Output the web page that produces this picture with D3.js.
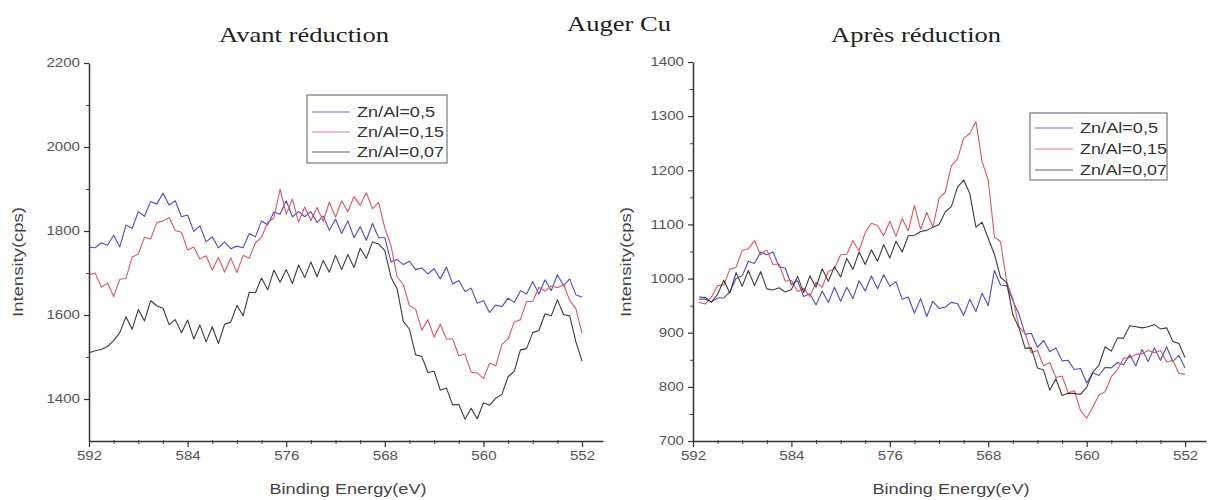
<!DOCTYPE html>
<html>
<head>
<meta charset="utf-8">
<script src="https://cdn.jsdelivr.net/npm/d3@7"></script>
<style>
  html, body { margin: 0; padding: 0; background: #fff; }
  svg { display: block; }
</style>
</head>
<body>
<svg id="chart" width="1208" height="500"></svg>
<script>
// ---------------- DATA ----------------
const chartTitle = "Auger Cu";
const panelTitles = ["Avant réduction", "Après réduction"];
const seriesNames = ["Zn/Al=0,5", "Zn/Al=0,15", "Zn/Al=0,07"];
const xLabel = "Binding Energy(eV)";
const yLabel = "Intensity(cps)";

const xTicks = [592, 584, 576, 568, 560, 552];
const xMinorTicks = [590, 588, 586, 582, 580, 578, 574, 572, 570, 566, 564, 562, 558, 556, 554];
const yTicksAvant = [1400, 1600, 1800, 2000, 2200];
const yMinorAvant = [1500, 1700, 1900, 2100];
const yTicksApres = [700, 800, 900, 1000, 1100, 1200, 1300, 1400];
const yMinorApres = [750, 850, 950, 1050, 1150, 1250, 1350];
const xDomain = [592, 550.3];
const yDomainAvant = [1300, 2200];
const yDomainApres = [700, 1400];

// Binding energies (eV)
const energiesAvant = [
  592,591.5,591,590.5,590,589.5,589,588.5,588,587.5,
  587,586.5,586,585.5,585,584.5,584,583.5,583,582.5,
  582,581.5,581,580.5,580,579.5,579,578.5,578,577.5,
  577,576.5,576,575.5,575,574.5,574,573.5,573,572.5,
  572,571.5,571,570.5,570,569.5,569,568.5,568,567.5,
  567,566.5,566,565.5,565,564.5,564,563.5,563,562.5,
  562,561.5,561,560.5,560,559.5,559,558.5,558,557.5,
  557,556.5,556,555.5,555,554.5,554,553.5,553,552.5,
  552];
const energiesApres = [
  591.5,591,590.5,590,589.5,589,588.5,588,587.5,587,
  586.5,586,585.5,585,584.5,584,583.5,583,582.5,582,
  581.5,581,580.5,580,579.5,579,578.5,578,577.5,577,
  576.5,576,575.5,575,574.5,574,573.5,573,572.5,572,
  571.5,571,570.5,570,569.5,569,568.5,568,567.5,567,
  566.5,566,565.5,565,564.5,564,563.5,563,562.5,562,
  561.5,561,560.5,560,559.5,559,558.5,558,557.5,557,
  556.5,556,555.5,555,554.5,554,553.5,553,552.5,552];

// Avant réduction intensities (cps)
const avant05 = [
  1762,1760,1772,1766,1790,1762,1814,1806,1846,1835,
  1870,1864,1890,1862,1872,1834,1838,1799,1812,1774,
  1786,1760,1774,1758,1764,1760,1794,1786,1824,1815,
  1845,1840,1872,1834,1846,1834,1846,1820,1836,1802,
  1828,1794,1824,1784,1810,1778,1818,1784,1784,1726,
  1732,1720,1728,1708,1712,1698,1710,1686,1714,1674,
  1682,1656,1664,1628,1634,1606,1624,1620,1640,1630,
  1658,1650,1680,1650,1684,1658,1696,1670,1686,1648,
  1642];
const avant015 = [
  1696,1700,1666,1676,1644,1685,1687,1738,1745,1785,
  1781,1820,1824,1832,1801,1797,1755,1762,1733,1741,
  1707,1737,1702,1736,1701,1742,1735,1772,1785,1821,
  1831,1900,1840,1876,1821,1857,1825,1856,1823,1869,
  1833,1872,1846,1882,1861,1891,1853,1868,1807,1765,
  1691,1672,1622,1614,1564,1589,1547,1578,1543,1543,
  1503,1507,1464,1462,1449,1485,1479,1530,1543,1583,
  1589,1632,1632,1666,1657,1669,1665,1672,1635,1615,
  1556];
const avant007 = [
  1510,1515,1518,1525,1539,1558,1596,1566,1613,1586,
  1634,1622,1616,1577,1589,1558,1588,1543,1576,1536,
  1572,1532,1578,1583,1623,1598,1654,1653,1688,1660,
  1707,1678,1708,1675,1719,1689,1726,1691,1730,1702,
  1742,1708,1744,1713,1759,1735,1774,1769,1753,1690,
  1662,1585,1566,1505,1501,1463,1466,1421,1426,1386,
  1387,1352,1378,1353,1391,1385,1402,1411,1453,1466,
  1517,1520,1558,1563,1603,1598,1636,1601,1598,1536,
  1490];

// Après réduction intensities (cps)
const apres05 = [
  962,962,957,964,964,976,1000,1005,1032,1028,
  1049,1044,1049,1022,1019,989,996,967,972,951,
  977,956,984,958,984,963,996,977,1005,981,
  1007,986,994,962,966,936,963,930,958,945,
  947,956,954,932,962,939,973,950,1015,988,
  987,959,934,897,899,873,886,865,872,848,
  849,832,834,807,826,821,836,835,845,841,
  859,839,869,847,872,849,874,847,858,835];
const apres015 = [
  956,953,966,987,988,1017,1021,1052,1055,1070,
  1044,1053,1026,1027,995,997,976,982,967,993,
  984,1013,1018,1044,1045,1070,1051,1085,1102,1098,
  1079,1106,1078,1111,1088,1135,1091,1122,1095,1148,
  1159,1208,1221,1259,1268,1290,1216,1182,1077,1068,
  994,963,911,899,863,867,839,845,817,820,
  789,793,756,742,763,785,791,819,832,853,
  854,860,861,867,863,867,846,849,825,823];
const apres007 = [
  966,965,956,971,997,973,1011,986,1015,987,
  1013,981,979,983,975,980,1004,974,1005,984,
  1018,995,1022,1003,1037,1017,1049,1026,1053,1032,
  1063,1038,1069,1049,1079,1080,1087,1089,1095,1100,
  1123,1133,1169,1182,1157,1095,1104,1074,1045,1002,
  993,933,909,871,872,835,831,794,815,784,
  788,788,786,799,827,840,874,866,890,890,
  913,911,909,911,915,907,909,884,880,854];

const seriesColors = ["#4f4ac4", "#da5860", "#3c3c3c"];

// ---------------- DRAW ----------------
const svg = d3.select("#chart");
const sans = "'Liberation Sans', Arial, sans-serif";
const serif = "'Liberation Serif', 'Times New Roman', serif";

svg.append("text")
  .attr("x", 619).attr("y", 31)
  .attr("text-anchor", "middle")
  .attr("font-family", serif).attr("font-size", 21)
  .attr("fill", "#222")
  .attr("textLength", 104).attr("lengthAdjust", "spacingAndGlyphs")
  .text(chartTitle);

const panels = [
  { title: panelTitles[0], titleX: 304, xRange: [89, 603], yRange: [441, 63], yDomain: yDomainAvant,
    yTicks: yTicksAvant, yMinor: yMinorAvant, energies: energiesAvant,
    series: [avant05, avant015, avant007], yLabelX: 18, xLabelX: 348,
    legend: { x: 307, y: 95, w: 140, h: 68, rows: [112, 132, 152] } },
  { title: panelTitles[1], titleX: 916, xRange: [693, 1206], yRange: [441, 62], yDomain: yDomainApres,
    yTicks: yTicksApres, yMinor: yMinorApres, energies: energiesApres,
    series: [apres05, apres015, apres007], yLabelX: 626, xLabelX: 951,
    legend: { x: 1030, y: 113, w: 137, h: 67, rows: [128, 149, 170] } }
];

function fitTickText(sel) {
  sel.selectAll(".tick text")
    .attr("font-family", sans)
    .attr("font-size", 12)
    .attr("fill", "#555")
    .each(function () {
      const t = d3.select(this);
      t.attr("textLength", t.text().length * 8.4).attr("lengthAdjust", "spacingAndGlyphs");
    });
}

panels.forEach(p => {
  const x = d3.scaleLinear().domain(xDomain).range(p.xRange);
  const y = d3.scaleLinear().domain(p.yDomain).range(p.yRange);
  const g = svg.append("g");

  // title
  g.append("text")
    .attr("x", p.titleX).attr("y", 42)
    .attr("text-anchor", "middle")
    .attr("font-family", serif).attr("font-size", 22)
    .attr("fill", "#222")
    .attr("textLength", 170).attr("lengthAdjust", "spacingAndGlyphs")
    .text(p.title);

  // series lines
  const line = d3.line()
    .x((d, i) => x(p.energies[i]))
    .y(d => y(d));
  p.series.forEach((s, k) => {
    g.append("path")
      .datum(s)
      .attr("fill", "none")
      .attr("stroke", seriesColors[k])
      .attr("stroke-width", 1.1)
      .attr("stroke-linejoin", "round")
      .attr("d", line);
  });

  // minor ticks
  g.append("g")
    .attr("transform", `translate(0,${p.yRange[0]})`)
    .call(d3.axisBottom(x).tickValues(xMinorTicks).tickSize(3).tickSizeOuter(0).tickFormat(""))
    .call(a => a.select(".domain").remove())
    .call(a => a.selectAll(".tick line").attr("stroke", "#444").attr("y1", -1));
  g.append("g")
    .attr("transform", `translate(${p.xRange[0]},0)`)
    .call(d3.axisLeft(y).tickValues(p.yMinor).tickSize(3).tickSizeOuter(0).tickFormat(""))
    .call(a => a.select(".domain").remove())
    .call(a => a.selectAll(".tick line").attr("stroke", "#444"));

  // major axes
  const xa = g.append("g")
    .attr("transform", `translate(0,${p.yRange[0]})`)
    .call(d3.axisBottom(x).tickValues(xTicks).tickSize(6).tickSizeOuter(0).tickPadding(4).tickFormat(d3.format("d")));
  xa.select(".domain").attr("stroke", "#333").attr("stroke-width", 1.5);
  xa.selectAll(".tick line").attr("stroke", "#333").attr("stroke-width", 1.2);
  fitTickText(xa);

  const ya = g.append("g")
    .attr("transform", `translate(${p.xRange[0]},0)`)
    .call(d3.axisLeft(y).tickValues(p.yTicks).tickSize(5).tickSizeOuter(0).tickPadding(4).tickFormat(d3.format("d")));
  ya.select(".domain").attr("stroke", "#333").attr("stroke-width", 1.5);
  ya.selectAll(".tick line").attr("stroke", "#333").attr("stroke-width", 1.2);
  fitTickText(ya);

  // axis titles
  g.append("text")
    .attr("x", p.xLabelX).attr("y", 494)
    .attr("text-anchor", "middle")
    .attr("font-family", sans).attr("font-size", 15)
    .attr("fill", "#444")
    .attr("textLength", 157).attr("lengthAdjust", "spacingAndGlyphs")
    .text(xLabel);
  g.append("text")
    .attr("transform", `translate(${p.yLabelX + 5},262) rotate(-90)`)
    .attr("text-anchor", "middle")
    .attr("font-family", sans).attr("font-size", 14)
    .attr("fill", "#444")
    .attr("textLength", 110).attr("lengthAdjust", "spacingAndGlyphs")
    .text(yLabel);

  // legend
  const L = p.legend;
  const lg = g.append("g");
  lg.append("rect")
    .attr("x", L.x).attr("y", L.y).attr("width", L.w).attr("height", L.h)
    .attr("fill", "#fff").attr("stroke", "#777").attr("stroke-width", 1.2);
  seriesNames.forEach((name, k) => {
    lg.append("line")
      .attr("x1", L.x + 5).attr("x2", L.x + 43)
      .attr("y1", L.rows[k]).attr("y2", L.rows[k])
      .attr("stroke", seriesColors[k]).attr("stroke-width", 1).attr("opacity", 0.8);
    lg.append("text")
      .attr("x", L.x + 50).attr("y", L.rows[k] + 5)
      .attr("font-family", sans).attr("font-size", 14)
      .attr("fill", "#333")
      .attr("textLength", name.length === 9 ? 78 : 87).attr("lengthAdjust", "spacingAndGlyphs")
      .text(name);
  });
});
</script>
</body>
</html>
